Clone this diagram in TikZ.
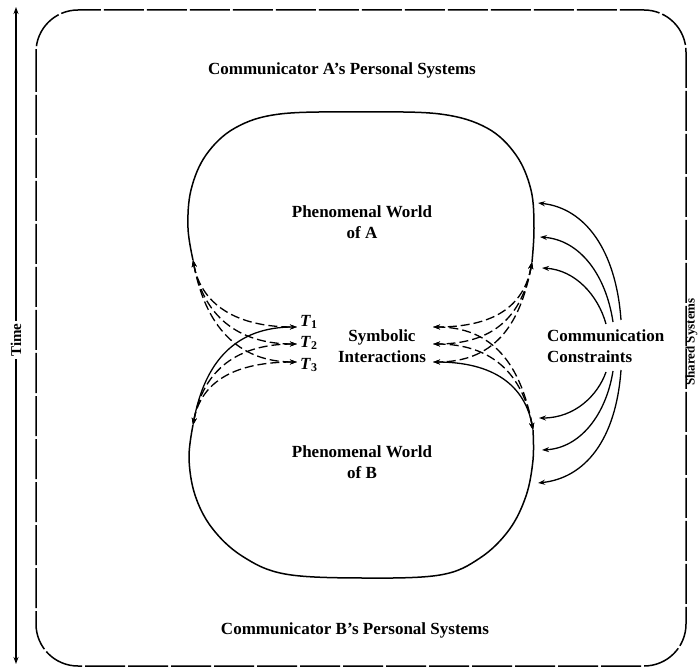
\documentclass[tikz,border=0pt]{standalone}
\usepackage{fontspec}
\setmainfont{Liberation Serif}
\usetikzlibrary{arrows.meta}
\begin{document}
\begin{tikzpicture}[x=1pt,y=-1pt]
\tikzset{
  outline/.style={line width=1.5pt},
  frame/.style={line width=1.5pt, dash pattern=on 40pt off 3pt, rounded corners=42pt},
  tip/.tip={Stealth[length=7pt,width=5pt]},
  link/.style={line width=1.3pt, tip-tip},
  dlink/.style={link, dash pattern=on 9pt off 4pt},
  constraint/.style={line width=1.3pt, -tip},
  timeaxis/.style={line width=1.4pt, tip-tip},
  lbl/.style={font=\fontsize{17}{21}\selectfont\bfseries, align=center, inner sep=1pt},
  smalllbl/.style={font=\fontsize{15}{18}\selectfont\bfseries, inner sep=2pt},
  edgelbl/.style={font=\fontsize{13}{16}\selectfont\bfseries, inner sep=0.5pt},
}
\useasboundingbox (0,0) rectangle (699,668);

% shared systems frame
\draw[frame] (36,10) rectangle (686,666);

% time axis
\coordinate (ttop) at (16,7);
\coordinate (tbot) at (16,664);
\draw[timeaxis] (tbot) -- (ttop);
\node[smalllbl, rotate=90, fill=white] (time) at (16,340) {Time};
\node[edgelbl, rotate=90, anchor=south] (shared) at (698,342) {Shared Systems};

% headings
\node[lbl] (persA) at (342,70) {Communicator A’s Personal Systems};
\node[lbl] (persB) at (355,630) {Communicator B’s Personal Systems};

% phenomenal worlds
\draw[outline] plot[smooth, tension=0.6] coordinates {(193,260) (188,228) (191,190) (206,155) (235,128) (280,114) (362,112) (440,114) (487,128) (516,155) (531,190) (534,228) (532,262)};
\draw[outline] plot[smooth, tension=0.6] coordinates {(193,425) (189,458) (195,495) (212,528) (242,556) (285,574) (362,578) (440,575) (480,558) (509,530) (526,496) (533,460) (533,430)};
\node[lbl] (worldA) at (362,222) {Phenomenal World\\of A};
\node[lbl] (worldB) at (362,462) {Phenomenal World\\of B};

% cusps of the two worlds
\coordinate (LA) at (193,260);
\coordinate (LB) at (193,425);
\coordinate (RA) at (532,262);
\coordinate (RB) at (533,430);

% interaction times
\node[lbl, anchor=west] (T1) at (299,322) {\textit{T}\textsubscript{1}};
\node[lbl, anchor=west] (T2) at (299,343) {\textit{T}\textsubscript{2}};
\node[lbl, anchor=west] (T3) at (299,365) {\textit{T}\textsubscript{3}};
\node[lbl] (sym) at (382,346) {Symbolic\\Interactions};

\coordinate (l1) at (297,327);
\coordinate (l2) at (297,344);
\coordinate (l3) at (297,362);
\coordinate (r1) at (433,327);
\coordinate (r2) at (433,344);
\coordinate (r3) at (433,362);

% left exchanges
\draw[dlink] (LA) .. controls +(8,45) and +(-60,0) .. (l1);
\draw[dlink] (LA) .. controls +(10,55) and +(-60,0) .. (l2);
\draw[dlink] (LA) .. controls +(12,65) and +(-60,0) .. (l3);
\draw[link]  (LB) .. controls +(12,-65) and +(-60,0) .. (l1);
\draw[dlink] (LB) .. controls +(10,-55) and +(-60,0) .. (l2);
\draw[dlink] (LB) .. controls +(8,-45) and +(-60,0) .. (l3);

% right exchanges
\draw[dlink] (RA) .. controls +(-8,45) and +(60,0) .. (r1);
\draw[dlink] (RA) .. controls +(-10,55) and +(60,0) .. (r2);
\draw[dlink] (RA) .. controls +(-12,65) and +(60,0) .. (r3);
\draw[dlink] (RB) .. controls +(-12,-65) and +(60,0) .. (r1);
\draw[dlink] (RB) .. controls +(-10,-55) and +(60,0) .. (r2);
\draw[link]  (RB) .. controls +(-8,-45) and +(60,0) .. (r3);

% communication constraints
\node[lbl, anchor=west, align=left] (cc) at (546,346) {Communication\\Constraints};
\coordinate (ca1) at (538,203);
\coordinate (ca2) at (540,237);
\coordinate (ca3) at (542,268);
\coordinate (cb1) at (538,483);
\coordinate (cb2) at (542,450);
\coordinate (cb3) at (539,418);
\coordinate (cu1) at (621,320);
\coordinate (cu2) at (613,322);
\coordinate (cu3) at (606,324);
\coordinate (cd1) at (621,370);
\coordinate (cd2) at (613,371);
\coordinate (cd3) at (606,372);
\draw[constraint] (cu1) .. controls (616,250) and (585,208) .. (ca1);
\draw[constraint] (cu2) .. controls (606,275) and (580,240) .. (ca2);
\draw[constraint] (cu3) .. controls (598,295) and (575,270) .. (ca3);
\draw[constraint] (cd1) .. controls (616,440) and (585,478) .. (cb1);
\draw[constraint] (cd2) .. controls (606,415) and (580,448) .. (cb2);
\draw[constraint] (cd3) .. controls (598,395) and (575,418) .. (cb3);
\end{tikzpicture}
\end{document}
